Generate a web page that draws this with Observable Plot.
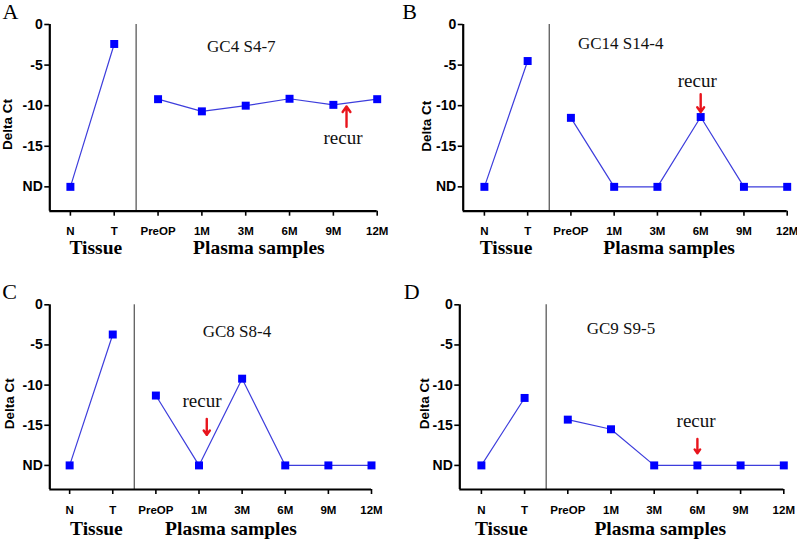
<!DOCTYPE html>
<html><head><meta charset="utf-8">
<script src="https://cdn.jsdelivr.net/npm/d3@7"></script>
<script src="https://cdn.jsdelivr.net/npm/@observablehq/plot@0.6"></script>
<style>
body{margin:0;background:#fff;}
#wrap{position:relative;width:797px;height:540px;overflow:hidden;}
.panel{position:absolute;}
</style></head><body><div id="wrap"></div>
<script>
// ---- data ----
const categories = ["N","T","PreOP","1M","3M","6M","9M","12M"];
const groups = ["Tissue","Tissue","Plasma","Plasma","Plasma","Plasma","Plasma","Plasma"];
const yTickValues = [0,-5,-10,-15,-20];
const yTickLabels = ["0","-5","-10","-15","ND"];
const panelLetters = ["A","B","C","D"];
const panelTitles = ["GC4 S4-7","GC14 S14-4","GC8 S8-4","GC9 S9-5"];
const valuesA = [-20, -2.4, -9.2, -10.7, -10.0, -9.15, -9.9, -9.2];
const valuesB = [-20, -4.5, -11.5, -20, -20, -11.4, -20, -20];
const valuesC = [-20, -3.7, -11.3, -20, -9.2, -20, -20, -20];
const valuesD = [-20, -11.6, -14.3, -15.5, -20, -20, -20, -20];
const recurLabel = "recur";
const groupLabels = ["Tissue","Plasma samples"];
const yLabel = "Delta Ct";

// ---- layout (positions/styles) ----
const H = 270;
const panels = [
  {values: valuesA, left:0,   top:0,   width:400, mL:49.3, mR:23.3, mT:24,   mB:59.3, xMin:-0.47,
   title:[3.9,-3.4], arrow:{x:6.30,y1:-12.6,y2:-10.1}, recur:[6.22,-14.7], groupX:[0.58,4.3], groupDy:42.3,
   yLab:[7.5,124], letter:[2,18.3]},
  {values: valuesB, left:400, top:0,   width:397, mL:62.7, mR:10.3, mT:24,   mB:59.3, xMin:-0.49,
   title:[3.15,-3.0], arrow:{x:5.0,y1:-8.6,y2:-10.8}, recur:[4.92,-7.7], groupX:[0.5,4.27], groupDy:42.3,
   yLab:[25.7,125.7], letter:[1.7,18.3]},
  {values: valuesC, left:0,   top:270, width:400, mL:49.3, mR:29,   mT:34.3, mB:51,   xMin:-0.46,
   title:[3.88,-4.0], arrow:{x:3.18,y1:-14.2,y2:-16.2}, recur:[3.07,-12.75], groupX:[0.62,3.74], groupDy:45,
   yLab:[9,133.3], letter:[1.7,28.3]},
  {values: valuesD, left:400, top:270, width:397, mL:59.3, mR:13.7, mT:34.3, mB:51,   xMin:-0.5,
   title:[3.23,-3.6], arrow:{x:5.0,y1:-16.7,y2:-18.5}, recur:[4.97,-15.2], groupX:[0.46,4.14], groupDy:45,
   yLab:[24,133.3], letter:[3.3,28.3]}
];

const sans = "Liberation Sans, Arial, sans-serif";
const serif = "Liberation Serif, Times New Roman, serif";
const yDomain = [-23, 0];

const wrap = document.getElementById("wrap");
panels.forEach((p, k) => {
  const data = categories.map((c, i) => ({i, c, g: groups[i], v: p.values[i]}));
  const frameMidY = p.mT + (H - p.mT - p.mB) / 2;
  const chart = Plot.plot({
    width: p.width, height: H,
    marginLeft: p.mL, marginRight: p.mR, marginTop: p.mT, marginBottom: p.mB,
    style: {fontFamily: sans, background: "transparent", overflow: "visible"},
    x: {type: "linear", domain: [p.xMin, categories.length - 1]},
    y: {type: "linear", domain: yDomain},
    marks: [
      Plot.ruleX([1.5], {stroke: "#666", strokeWidth: 1.4}),
      Plot.axisX({ticks: d3.range(categories.length), tickFormat: i => categories[i], tickSize: 5, tickPadding: 11,
        fontSize: 11.5, fontWeight: "bold", fill: "#000", stroke: "#000", strokeWidth: 1.6, label: null}),
      Plot.axisY({ticks: yTickValues, tickFormat: v => yTickLabels[yTickValues.indexOf(v)], tickSize: 5, tickPadding: 2,
        fontSize: 14, fontWeight: "bold", fill: "#000", stroke: "#000", strokeWidth: 1.6, label: null}),
      Plot.ruleY([yDomain[0]], {stroke: "#000", strokeWidth: 2.2}),
      Plot.ruleX([p.xMin], {stroke: "#000", strokeWidth: 2.2}),
      Plot.line(data, {x: "i", y: "v", z: "g", stroke: "#3d3ddc", strokeWidth: 1.2}),
      Plot.dot(data, {x: "i", y: "v", symbol: "square", r: 4.5, fill: "#0000ff", stroke: "none"}),
      Plot.text([panelTitles[k]], {x: p.title[0], y: p.title[1], text: d => d, fontFamily: serif, fontSize: 17,
        lineAnchor: "bottom", textAnchor: "middle", fill: "#111"}),
      Plot.arrow([p.arrow], {x1: "x", y1: "y1", x2: "x", y2: "y2", stroke: "#e8141c", strokeWidth: 2.4,
        headLength: 9, headAngle: 70}),
      Plot.text([recurLabel], {x: p.recur[0], y: p.recur[1], text: d => d, fontFamily: serif, fontSize: 19,
        lineAnchor: "bottom", textAnchor: "middle", fill: "#111"}),
      Plot.text(groupLabels, {x: (d, i) => p.groupX[i], frameAnchor: "bottom", dy: p.groupDy, text: d => d,
        fontFamily: serif, fontSize: 19.5, fontWeight: "bold", lineAnchor: "bottom", textAnchor: "middle", fill: "#000"}),
      Plot.text([yLabel], {frameAnchor: "left", dx: p.yLab[0] - p.mL, dy: p.yLab[1] - frameMidY, rotate: -90,
        text: d => d, fontSize: 13.5, fontWeight: "bold", lineAnchor: "middle", textAnchor: "middle", fill: "#000"}),
      Plot.text([panelLetters[k]], {frameAnchor: "top-left", dx: p.letter[0] - p.mL, dy: p.letter[1] - p.mT,
        text: d => d, fontFamily: serif, fontSize: 22, lineAnchor: "bottom", textAnchor: "start", fill: "#000"})
    ]
  });
  const div = document.createElement("div");
  div.className = "panel";
  div.style.left = p.left + "px";
  div.style.top = p.top + "px";
  div.appendChild(chart);
  wrap.appendChild(div);
});
</script>
</body></html>
